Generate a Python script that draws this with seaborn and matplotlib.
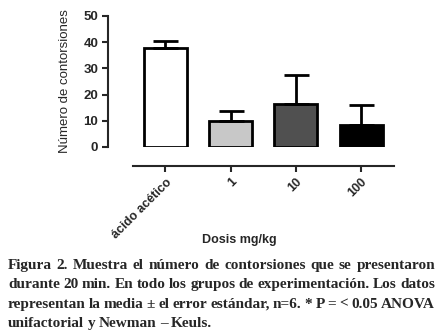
import matplotlib
matplotlib.use('Agg')
import matplotlib.pyplot as plt
import seaborn as sns
import pandas as pd

# Datos
grupos = ['ácido acético', '1', '10', '100']
medias = [37.9, 9.8, 16.3, 8.2]
errores = [2.5, 4.1, 11.2, 7.8]
colores = ['#ffffff', '#c8c8c8', '#505050', '#000000']

caption = [
    'Figura 2. Muestra el número de contorsiones que se presentaron',
    'durante 20 min. En todo los grupos de experimentación. Los datos',
    'representan la media ± el error estándar, n=6. * P = < 0.05 ANOVA',
    'unifactorial y Newman – Keuls.',
]

sns.set_style('ticks')
plt.rcParams['font.family'] = ['Liberation Sans', 'DejaVu Sans']

df = pd.DataFrame({'grupo': grupos, 'media': medias})

fig = plt.figure(figsize=(4.4, 3.31), dpi=100)
ax = fig.add_axes([0.302, 0.556, 0.593, 0.396])

sns.barplot(data=df, x='grupo', y='media', hue='grupo', palette=colores,
            width=0.66, edgecolor='black', linewidth=2, legend=False, ax=ax)

# error solo hacia arriba
ax.errorbar(range(len(grupos)), medias, yerr=[[0] * len(errores), errores],
            fmt='none', ecolor='black', elinewidth=2, capsize=9, capthick=2)

# spines primero (set_position reinicia los ticks)
sns.despine(ax=ax)
ax.spines['left'].set_position(('outward', 18))
ax.spines['bottom'].set_position(('outward', 14))
ax.spines['left'].set_linewidth(1.5)
ax.spines['bottom'].set_linewidth(1.5)

ax.set_ylim(0, 50)
ax.set_xlim(-0.5, 3.5)
ax.set_yticks([0, 10, 20, 30, 40, 50])
ax.set_yticklabels(['0', '10', '20', '30', '40', '50'], fontweight='bold', fontsize=9.5)
ax.set_xticks(range(len(grupos)))
ax.set_xticklabels(grupos, rotation=45, ha='right', rotation_mode='anchor',
                   fontweight='bold', fontsize=9)
ax.set_xlabel('')
ax.set_ylabel('Número de contorsiones', fontsize=9.5, labelpad=9)
ax.tick_params(axis='both', width=1.5, length=4, pad=3)

fig.text(0.543, 0.275, 'Dosis mg/kg', ha='center', va='center',
         fontweight='bold', fontsize=9)

# pie de figura justificado
W = fig.get_figwidth() * fig.dpi
H = fig.get_figheight() * fig.dpi
left, right = 8 / W, 435 / W
renderer = fig.canvas.get_renderer()
for i, line in enumerate(caption):
    y = (H - 269 - i * 19.3) / H
    words = line.split(' ')
    texts = [fig.text(left, y, w, ha='left', va='baseline',
                      family=['Liberation Serif', 'DejaVu Serif'],
                      fontweight='bold', fontsize=11) for w in words]
    widths = [t.get_window_extent(renderer).width / W for t in texts]
    if i < len(caption) - 1:
        gap = (right - left - sum(widths)) / (len(words) - 1)
    else:
        gap = 3.5 / W
    x = left
    for t, w in zip(texts, widths):
        t.set_x(x)
        x += w + gap

fig.savefig('out.png', dpi=100)
